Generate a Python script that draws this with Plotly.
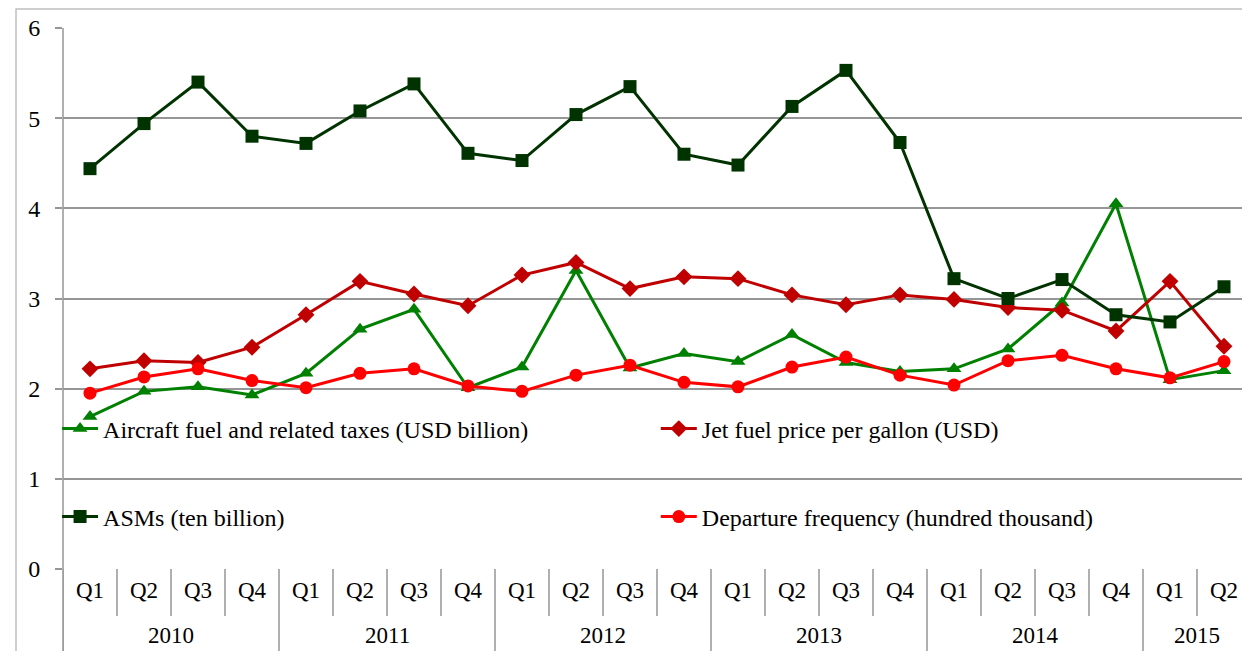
import plotly.graph_objects as go

years = ['2010', '2011', '2012', '2013', '2014', '2015']
quarters_per_year = [4, 4, 4, 4, 4, 2]
quarter_names = ['Q1', 'Q2', 'Q3', 'Q4']

fuel_taxes = [1.69, 1.97, 2.02, 1.93, 2.17, 2.66, 2.88, 2.01, 2.24, 3.31, 2.23,
              2.39, 2.30, 2.60, 2.29, 2.19, 2.22, 2.44, 2.95, 4.05, 2.10, 2.20]
jet_price = [2.22, 2.31, 2.29, 2.46, 2.82, 3.19, 3.05, 2.92, 3.26, 3.40, 3.11,
             3.24, 3.22, 3.04, 2.93, 3.04, 2.99, 2.90, 2.87, 2.64, 3.19, 2.47]
asms = [4.44, 4.94, 5.40, 4.80, 4.72, 5.08, 5.38, 4.61, 4.53, 5.04, 5.35,
        4.60, 4.48, 5.13, 5.53, 4.73, 3.22, 3.00, 3.21, 2.82, 2.74, 3.13]
departures = [1.95, 2.13, 2.22, 2.09, 2.01, 2.17, 2.22, 2.03, 1.97, 2.15, 2.26,
              2.07, 2.02, 2.24, 2.35, 2.15, 2.04, 2.31, 2.37, 2.22, 2.12, 2.30]

# category positions
qlabels = []
for n in quarters_per_year:
    qlabels += quarter_names[:n]
xs = list(range(len(qlabels)))

FONT = 'Liberation Serif'
GRID = '#969696'

fig = go.Figure()
fig.add_trace(go.Scatter(x=xs, y=fuel_taxes, mode='lines+markers',
                         name='Aircraft fuel and related taxes (USD billion)',
                         line=dict(color='#008000', width=3),
                         marker=dict(symbol='triangle-up', size=13, color='#008000'),
                         legend='legend', showlegend=True))
fig.add_trace(go.Scatter(x=xs, y=jet_price, mode='lines+markers',
                         name='Jet fuel price per gallon (USD)',
                         line=dict(color='#C00000', width=3),
                         marker=dict(symbol='diamond', size=13, color='#C00000'),
                         legend='legend2'))
fig.add_trace(go.Scatter(x=xs, y=asms, mode='lines+markers',
                         name='ASMs (ten billion)',
                         line=dict(color='#003300', width=3),
                         marker=dict(symbol='square', size=13, color='#003300'),
                         legend='legend3'))
fig.add_trace(go.Scatter(x=xs, y=departures, mode='lines+markers',
                         name='Departure frequency (hundred thousand)',
                         line=dict(color='#FF0000', width=3),
                         marker=dict(symbol='circle', size=13, color='#FF0000'),
                         legend='legend4'))

H = 541.0
def py(p):
    return (561 - p) / H

ann = []
shapes = []
# quarter labels
for i, q in enumerate(qlabels):
    ann.append(dict(x=i, y=py(597), xref='x', yref='paper', text=q, showarrow=False,
                    font=dict(family=FONT, size=23, color='black')))
# year labels and separators
start = 0
year_edges = [-0.5]
for y, n in zip(years, quarters_per_year):
    ann.append(dict(x=start + (n - 1) / 2, y=py(642), xref='x', yref='paper', text=y,
                    showarrow=False, font=dict(family=FONT, size=23, color='black')))
    start += n
    year_edges.append(start - 0.5)
for i in range(len(qlabels) + 1):
    e = i - 0.5
    y0 = py(700) if e in year_edges else py(608)
    shapes.append(dict(type='line', xref='x', yref='paper', x0=e, x1=e, y0=0, y1=y0,
                       line=dict(color=GRID, width=1.5)))
# y axis line extended
shapes.append(dict(type='line', xref='paper', yref='paper', x0=0, x1=0, y0=1, y1=py(700),
                   line=dict(color=GRID, width=1.5)))
# outer chart border
shapes.append(dict(type='rect', xref='paper', yref='paper', x0=(8 - 55) / 1188, x1=(1249 - 55) / 1188,
                   y0=py(700), y1=py(1), line=dict(color='#BFBFBF', width=1.5)))

leg_common = dict(orientation='h', xanchor='left', yanchor='middle', bgcolor='rgba(0,0,0,0)',
                  font=dict(family=FONT, size=24, color='black'), itemwidth=36, visible=True)
fig.update_layout(
    width=1250, height=651,
    margin=dict(l=55, r=7, t=20, b=90),
    paper_bgcolor='white', plot_bgcolor='white',
    showlegend=True,
    font=dict(family=FONT, size=22, color='black'),
    xaxis=dict(range=[-0.5, len(qlabels) - 0.5], showticklabels=False, showgrid=False,
               zeroline=False, ticks=''),
    yaxis=dict(range=[0, 6], dtick=1, showgrid=True, gridcolor=GRID, gridwidth=1.5,
               zeroline=False, ticks='outside', ticklen=7, tickcolor=GRID, tickwidth=1.5,
               ticklabelstandoff=10, tickfont=dict(family=FONT, size=24, color='black')),
    legend=dict(x=-0.005, y=py(421), **leg_common),
    legend2=dict(x=0.499, y=py(421), **leg_common),
    legend3=dict(x=-0.005, y=py(509), **leg_common),
    legend4=dict(x=0.499, y=py(509), **leg_common),
    annotations=ann,
    shapes=shapes,
)

fig.write_html('out.html')
